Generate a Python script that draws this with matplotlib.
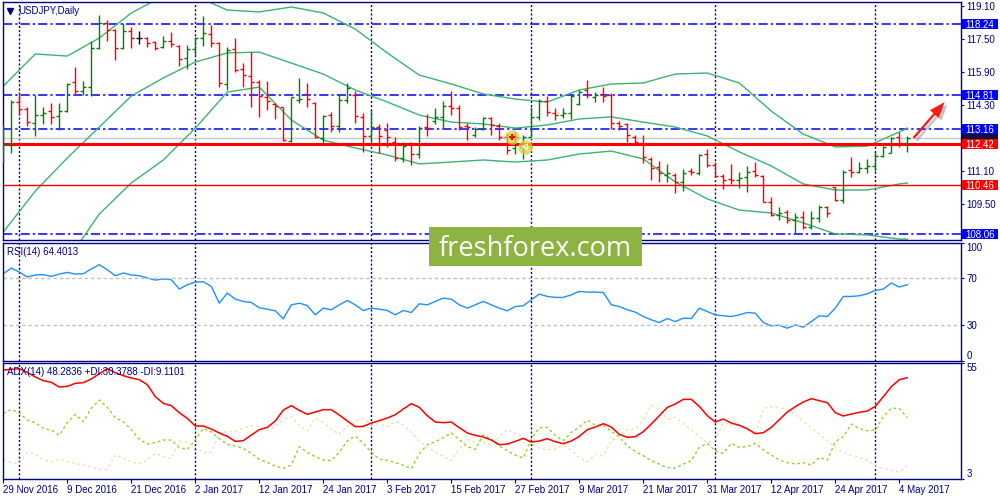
import matplotlib
matplotlib.use('Agg')
import matplotlib.pyplot as plt
import matplotlib.patheffects as pe
from matplotlib.patches import Rectangle, FancyArrowPatch
from matplotlib.transforms import blended_transform_factory
import numpy as np
import pandas as pd

plt.rcParams['font.family'] = ['Liberation Sans', 'DejaVu Sans']
plt.rcParams['font.size'] = 7

NAVY = '#000080'

# дневные бары USDJPY
dates = pd.bdate_range('2016-11-29', periods=114)

opens = [112.37, 112.37, 114.46, 114.11, 113.42, 113.82, 114.01, 113.79, 114.01, 115.43,
         115.00, 115.16, 117.04, 118.25, 117.93, 117.04, 117.88, 117.52, 117.52, 117.33,
         117.09, 117.38, 117.17, 116.56, 116.99, 117.52, 117.73, 117.28, 115.30, 116.99,
         116.03, 115.70, 115.43, 114.71, 114.34, 114.19, 112.58, 114.55, 114.82, 114.42,
         112.69, 113.82, 113.29, 114.55, 114.79, 113.74, 112.81, 113.22, 113.10, 112.50,
         111.73, 112.40, 111.94, 113.26, 113.55, 113.71, 114.26, 114.14, 113.29, 112.85,
         113.13, 113.66, 113.29, 112.77, 112.21, 112.29, 112.77, 113.74, 114.50, 113.90,
         113.82, 113.90, 114.35, 115.03, 114.71, 114.83, 114.79, 113.45, 113.39, 112.74,
         112.48, 111.68, 111.33, 110.92, 110.92, 110.60, 111.13, 111.00, 111.94, 111.41,
         110.89, 110.73, 110.68, 110.84, 111.12, 110.89, 109.63, 108.99, 109.15, 108.75,
         108.88, 108.39, 108.83, 109.36, 110.33, 109.72, 111.16, 111.08, 111.24, 111.37,
         111.86, 112.00, 112.77, 112.48]
highs = [113.34, 114.55, 114.83, 114.19, 114.79, 114.19, 114.38, 114.38, 115.38, 116.12,
         115.46, 117.41, 118.65, 118.41, 117.96, 118.25, 118.05, 117.88, 117.60, 117.41,
         117.64, 117.81, 117.20, 117.20, 117.60, 118.60, 118.17, 117.36, 117.12, 117.52,
         116.35, 116.88, 115.51, 115.46, 114.38, 114.22, 114.71, 115.59, 115.35, 114.43,
         113.82, 113.98, 114.82, 115.35, 115.00, 113.93, 114.06, 113.39, 113.45, 112.77,
         112.53, 112.53, 113.31, 113.85, 114.14, 114.50, 115.00, 114.30, 113.45, 113.26,
         113.74, 113.74, 113.42, 112.94, 113.02, 112.85, 114.22, 114.58, 114.74, 114.14,
         114.14, 114.79, 115.03, 115.51, 114.92, 115.16, 114.87, 113.53, 113.45, 112.85,
         112.85, 111.78, 111.62, 111.45, 111.04, 111.20, 111.28, 111.94, 112.16, 111.53,
         110.95, 111.45, 111.08, 111.36, 111.57, 110.92, 109.88, 109.36, 109.23, 109.07,
         109.20, 109.20, 109.47, 109.43, 110.36, 111.16, 111.78, 111.57, 111.70, 112.05,
         112.34, 112.77, 113.02, 112.81]
lows = [111.57, 112.00, 113.82, 113.29, 112.82, 113.39, 113.39, 113.10, 113.98, 114.79,
        114.79, 114.74, 116.99, 117.41, 116.48, 116.99, 117.07, 117.23, 117.12, 116.96,
        117.04, 117.09, 116.20, 116.04, 116.72, 117.17, 117.12, 115.19, 115.03, 115.91,
        115.16, 114.22, 113.74, 114.06, 113.61, 112.58, 112.53, 114.38, 114.19, 112.69,
        112.45, 113.02, 113.02, 114.38, 113.42, 112.05, 112.45, 112.00, 112.26, 111.60,
        111.53, 111.41, 111.73, 112.81, 113.39, 113.21, 113.82, 113.10, 112.61, 112.77,
        113.10, 112.85, 112.61, 111.94, 111.94, 111.68, 112.74, 113.58, 113.77, 113.58,
        113.66, 113.61, 114.30, 114.63, 114.46, 114.46, 113.13, 113.10, 112.53, 112.45,
        111.52, 110.68, 110.60, 110.60, 110.07, 110.17, 110.92, 110.92, 111.33, 110.84,
        110.23, 110.49, 110.28, 110.12, 110.84, 109.60, 108.94, 108.75, 108.62, 108.07,
        108.30, 108.30, 108.67, 108.88, 109.68, 109.59, 110.84, 111.00, 111.04, 111.13,
        111.78, 111.97, 112.29, 112.05]
closes = [112.42, 114.46, 114.11, 113.48, 113.82, 113.90, 113.74, 114.01, 115.33, 115.00,
          115.16, 117.04, 118.25, 117.93, 117.07, 117.88, 117.52, 117.52, 117.31, 117.04,
          117.41, 117.25, 116.51, 116.99, 117.52, 117.77, 117.28, 115.35, 116.96, 115.99,
          115.74, 115.43, 114.74, 114.50, 114.26, 112.61, 114.67, 114.61, 114.59, 112.74,
          113.77, 113.29, 114.55, 115.11, 113.77, 112.81, 113.22, 112.81, 112.77, 111.73,
          112.32, 111.94, 113.18, 113.18, 113.71, 114.26, 114.14, 113.26, 113.22, 113.13,
          113.69, 113.34, 112.74, 112.13, 112.77, 112.77, 113.71, 114.50, 113.98, 113.82,
          113.93, 114.74, 114.95, 114.79, 114.79, 114.74, 113.45, 113.29, 112.85, 112.53,
          111.81, 111.24, 111.00, 111.00, 110.60, 111.00, 111.08, 111.89, 111.41, 110.89,
          110.68, 110.68, 110.76, 111.05, 110.92, 109.63, 108.99, 109.07, 108.75, 108.88,
          108.39, 108.83, 109.39, 109.07, 109.72, 111.08, 111.05, 111.24, 111.37, 111.86,
          112.26, 112.73, 112.45, 112.73]

# полосы Боллинджера (считаны через каждые 4 бара)
band_idx = list(range(0, 113, 4)) + [113]
bb_upper = [115.22, 116.77, 116.67, 117.54, 118.75, 119.57, 119.57, 118.89, 118.80, 119.04,
            118.75, 117.97, 116.82, 115.75, 115.32, 114.84, 114.59, 114.45, 115.03, 115.32,
            115.37, 115.80, 115.85, 115.37, 114.01, 112.90, 112.28, 112.32, 113.00, 113.19]
bb_mid = [108.17, 110.15, 111.75, 113.24, 114.74, 115.61, 116.38, 116.82, 116.86, 116.33,
          115.80, 115.03, 114.45, 113.82, 113.48, 113.39, 113.19, 113.34, 113.63, 113.73,
          113.48, 113.24, 112.81, 112.04, 111.36, 110.49, 110.20, 110.20, 110.49, 110.54]
bb_lower = [101.10, 103.50, 106.80, 109.04, 110.54, 111.65, 113.19, 114.93, 115.17, 113.58,
            112.61, 112.23, 111.89, 111.46, 111.55, 111.65, 111.55, 111.65, 111.94, 112.08,
            111.70, 110.59, 109.77, 109.23, 109.09, 108.61, 108.08, 108.03, 107.83, 107.83]

rsi = [73.7, 78.5, 75.1, 70.9, 72.6, 72.9, 71.4, 73.4, 74.8, 73.4,
       73.7, 77.7, 81.4, 77.1, 72.0, 74.3, 72.6, 72.0, 70.0, 68.3,
       69.2, 68.6, 60.7, 64.3, 66.6, 66.9, 62.9, 48.7, 57.3, 52.1,
       50.2, 49.3, 44.8, 43.6, 42.2, 35.4, 47.3, 48.7, 46.7, 38.8,
       44.5, 43.1, 47.3, 51.0, 47.3, 42.5, 44.5, 43.6, 42.5, 38.8,
       42.5, 40.8, 48.2, 47.3, 50.2, 53.0, 52.1, 47.3, 44.5, 47.3,
       50.2, 47.3, 44.5, 42.2, 45.9, 46.5, 51.6, 56.4, 54.4, 53.6,
       53.6, 55.8, 58.7, 58.1, 58.1, 57.8, 47.3, 45.9, 43.1, 41.1,
       37.4, 34.6, 32.3, 35.7, 33.1, 36.0, 35.7, 44.5, 41.6, 38.8,
       38.0, 37.4, 38.8, 40.8, 40.2, 32.3, 29.5, 30.0, 27.5, 30.3,
       28.3, 33.1, 38.0, 37.4, 44.5, 54.4, 54.4, 55.0, 56.7, 59.5,
       60.7, 65.8, 62.4, 64.4]

adx = [51.73, 52.03, 52.33, 50.69, 48.60, 46.96, 46.22, 44.13, 44.43, 45.77,
       46.07, 47.71, 50.09, 52.33, 50.54, 49.20, 48.15, 47.41, 45.17, 39.81,
       36.83, 35.78, 32.65, 30.12, 26.69, 26.69, 25.35, 23.56, 22.07, 19.83,
       20.13, 22.66, 25.05, 26.09, 28.93, 33.84, 35.78, 33.69, 31.91, 32.95,
       33.99, 33.99, 31.61, 28.93, 26.39, 26.54, 28.03, 29.07, 30.27, 31.76,
       34.29, 36.68, 35.04, 31.31, 28.48, 28.18, 28.48, 25.94, 23.56, 22.51,
       21.77, 20.43, 18.34, 18.64, 19.83, 21.17, 19.53, 19.98, 21.02, 19.68,
       18.79, 19.98, 22.07, 25.05, 26.24, 27.73, 26.24, 22.96, 21.62, 21.92,
       24.15, 27.58, 31.31, 35.04, 36.53, 38.61, 38.61, 35.48, 31.31, 28.48,
       29.82, 28.03, 26.99, 25.50, 23.26, 23.71, 26.09, 29.52, 32.95, 35.33,
       37.42, 38.91, 38.02, 37.12, 32.65, 31.16, 32.06, 32.80, 33.40, 35.48,
       39.81, 44.28, 47.41, 48.28]
plus_di = [32.35, 34.14, 32.50, 29.37, 28.18, 25.65, 24.90, 22.51, 28.18, 31.91,
           28.63, 34.59, 38.32, 35.04, 30.42, 28.63, 25.05, 20.73, 18.64, 19.24,
           20.43, 20.43, 17.00, 16.25, 20.43, 25.65, 24.15, 21.02, 18.49, 17.74,
           16.70, 14.47, 11.78, 10.44, 8.80, 7.76, 9.25, 17.45, 14.91, 12.97,
           11.48, 11.19, 14.91, 19.98, 22.22, 18.94, 15.06, 11.78, 11.33, 10.29,
           9.10, 7.61, 14.32, 18.34, 19.68, 21.47, 23.56, 20.58, 17.45, 16.25,
           22.81, 20.73, 17.74, 15.66, 13.72, 12.38, 21.02, 25.94, 26.09, 22.51,
           20.13, 23.86, 26.24, 29.37, 26.99, 26.99, 24.30, 21.92, 17.74, 15.36,
           13.42, 11.19, 9.69, 8.05, 7.91, 9.69, 11.19, 17.15, 18.94, 15.51,
           14.47, 18.94, 17.15, 17.45, 18.94, 15.96, 13.72, 11.48, 10.29, 9.69,
           10.29, 9.25, 12.68, 11.48, 19.68, 21.92, 27.58, 25.50, 24.60, 24.90,
           30.86, 34.59, 34.59, 30.38]
minus_di = [11.48, 10.29, 9.99, 14.91, 14.02, 11.48, 10.74, 11.78, 10.74, 9.99,
            9.25, 8.50, 7.31, 7.31, 13.72, 12.23, 10.74, 9.69, 11.48, 14.47,
            12.97, 12.23, 19.98, 19.39, 17.45, 14.91, 14.91, 23.71, 24.15, 24.15,
            25.65, 26.69, 26.39, 24.60, 26.39, 29.67, 30.86, 26.99, 24.45, 30.12,
            28.18, 25.20, 22.96, 26.39, 28.93, 30.12, 27.58, 27.73, 26.39, 28.78,
            26.99, 24.00, 19.83, 17.15, 15.06, 13.12, 11.19, 16.55, 20.73, 19.53,
            19.53, 18.04, 22.07, 25.20, 23.26, 21.77, 18.79, 16.85, 16.11, 16.25,
            18.04, 15.81, 12.38, 10.74, 14.02, 13.27, 20.13, 21.77, 25.20, 25.20,
            29.37, 36.08, 34.14, 29.82, 30.56, 27.88, 24.90, 21.92, 19.24, 20.43,
            28.18, 27.14, 27.14, 25.20, 23.11, 34.59, 35.33, 34.89, 34.14, 31.76,
            28.78, 25.80, 23.11, 20.13, 17.15, 15.06, 13.57, 12.68, 11.48, 8.80,
            7.76, 7.01, 5.97, 9.11]

# уровни на графике
blue_levels = [118.24, 114.81, 113.16, 108.06]
red_levels = [112.42, 110.46]
red_widths = [2.2, 1.0]
bid = 112.70
price_ticks = [119.10, 117.50, 115.90, 114.30, 111.10, 109.50]

# отметки сделок и стрелка прогноза
trade_x = [63.55, 65.2]
trade_y = [112.77, 112.29]
arrow_from = (113.55, 112.61)
arrow_to = (117.9, 114.55)

x = np.arange(len(dates))
xlim = (-0.075, 119.675)
ylim_main = (107.785, 119.28)

fig = plt.figure(figsize=(10, 5), dpi=100)
ax = fig.add_axes([0.0027, 0.52, 0.958, 0.476])
ax_rsi = fig.add_axes([0.0027, 0.2788, 0.958, 0.2358])
ax_adx = fig.add_axes([0.0027, 0.042, 0.958, 0.2326])

month_starts = [i for i in range(1, len(dates)) if dates[i].month != dates[i - 1].month]

for a in (ax, ax_rsi, ax_adx):
    a.set_xlim(*xlim)
    for s in a.spines.values():
        s.set_color(NAVY)
        s.set_linewidth(1.0)
    for m in month_starts:
        a.axvline(m, color=NAVY, lw=1.0, ls=(0, (1.5, 1.5)), zorder=0.5)
    a.yaxis.tick_right()
    a.tick_params(axis='y', direction='out', length=2.2, width=0.8, color=NAVY,
                  labelcolor=NAVY, pad=2.2, labelsize=7)
    a.tick_params(axis='x', bottom=False, labelbottom=False)

# основной график
ax.set_ylim(*ylim_main)
colors = ['#008000' if c > o else '#ff0000' if c < o else 'black'
          for o, c in zip(opens, closes)]
ax.vlines(x, lows, highs, colors=colors, lw=1.0, zorder=3)
ax.hlines(opens, x - 0.38, x, colors=colors, lw=1.0, zorder=3)
ax.hlines(closes, x, x + 0.38, colors=colors, lw=1.0, zorder=3)

for band in (bb_upper, bb_mid, bb_lower):
    ax.plot(band_idx, band, color='#3cb371', lw=1.0, zorder=2)

for lv in blue_levels:
    ax.axhline(lv, color='#0000ff', lw=1.1, dashes=(6, 2, 1.5, 2), zorder=1)
for lv, w in zip(red_levels, red_widths):
    ax.axhline(lv, color='#ff0000', lw=w, zorder=2.5)
ax.axhline(bid, color='#c8c8c8', lw=1.0, zorder=1)

ax.set_yticks(price_ticks)
ax.set_yticklabels([f'{p:.2f}' for p in price_ticks])

ax.scatter(trade_x, trade_y, s=110, color='#d8d43a', alpha=0.75, lw=0, zorder=4)
ax.scatter(trade_x[:1], trade_y[:1], s=22, marker='+', color='#ff0000', lw=1.5, zorder=5)
ax.scatter(trade_x[1:], trade_y[1:], s=14, marker='<', facecolor='none',
           edgecolor='white', lw=0.8, zorder=5)

arrow = FancyArrowPatch(arrow_from, arrow_to,
                        arrowstyle='simple,head_length=0.95,head_width=0.7,tail_width=0.14',
                        mutation_scale=12, color='#ff1a1a', lw=0, zorder=6)
arrow.set_path_effects([pe.withSimplePatchShadow(offset=(2, -2), shadow_rgbFace='#808080',
                                                 alpha=0.45)])
ax.add_patch(arrow)

ax.plot([0.0073], [0.963], marker='v', color=NAVY, ms=4.5, transform=ax.transAxes)
ax.text(0.0163, 0.962, 'USDJPY,Daily', transform=ax.transAxes, color=NAVY,
        ha='left', va='center', fontsize=7)

# метки уровней справа
ppu = ax.get_position().height * 500 / (ylim_main[1] - ylim_main[0])
half_h = 5.0 / ppu
trans = blended_transform_factory(fig.transFigure, ax.transData)
ax.add_patch(Rectangle((0.9617, bid - half_h), 0.0363, 2 * half_h, transform=trans,
                       fc='#101040', ec='none', clip_on=False, zorder=5))
labels = [(lv, '#0000ff') for lv in blue_levels] + [(lv, '#ff0000') for lv in red_levels]
for lv, fc in labels:
    ax.add_patch(Rectangle((0.9617, lv - half_h), 0.0363, 2 * half_h, transform=trans,
                           fc=fc, ec='none', clip_on=False, zorder=6))
    ax.text(0.9799, lv, f'{lv:.2f}', transform=trans, color='white', ha='center',
            va='center_baseline', fontsize=7, clip_on=False, zorder=6.5)

# RSI
ax_rsi.set_ylim(0, 100)
ax_rsi.plot(x, rsi, color='#1e90ff', lw=1.0)
for lv in (30, 70):
    ax_rsi.axhline(lv, color='#c0c0c0', lw=1.0, ls=(0, (2.5, 2)))
ax_rsi.set_yticks([0, 30, 70, 100])
ax_rsi.set_yticklabels(['0', '30', '70', '100'])
tl = ax_rsi.get_yticklabels()
tl[0].set_va('bottom')
tl[3].set_va('top')
ax_rsi.text(0.0048, 0.924, f'RSI(14) {64.4013:.4f}', transform=ax_rsi.transAxes,
            color=NAVY, ha='left', va='center', fontsize=7)

# ADX
ax_adx.set_ylim(3, 55)
ax_adx.plot(x, plus_di, color='#9acd32', lw=1.0, ls=(0, (2, 2)))
ax_adx.plot(x, minus_di, color='#f5deb3', lw=1.0, ls=(0, (2, 2)))
ax_adx.plot(x, adx, color='#ff0000', lw=1.1)
ax_adx.set_yticks([3, 55])
ax_adx.set_yticklabels(['3', '55'])
tl = ax_adx.get_yticklabels()
tl[0].set_va('bottom')
tl[1].set_va('top')
ax_adx.text(0.0048, 0.923, 'ADX(14) 48.2836 +DI:30.3788 -DI:9.1101',
            transform=ax_adx.transAxes, color=NAVY, ha='left', va='center', fontsize=7)

tick_pos = list(range(0, len(dates), 8))
ax_adx.set_xticks(tick_pos)
ax_adx.set_xticklabels([f'{dates[i].day} {dates[i]:%b %Y}' for i in tick_pos])
ax_adx.tick_params(axis='x', bottom=True, labelbottom=True, direction='out', length=3,
                   width=0.8, color=NAVY, labelcolor=NAVY, pad=1.5, labelsize=7)
for t in ax_adx.get_xticklabels():
    t.set_horizontalalignment('left')

# логотип
fig.patches.append(Rectangle((0.429, 0.468), 0.2127, 0.0786, transform=fig.transFigure,
                             fc='#8db443', ec='none', zorder=10))
fig.text(0.535, 0.488, 'freshforex.com', color='white', fontsize=19.5,
         family=['Open Sans', 'DejaVu Sans'], ha='center', va='baseline', zorder=11)

fig.savefig('out.png', dpi=100)
